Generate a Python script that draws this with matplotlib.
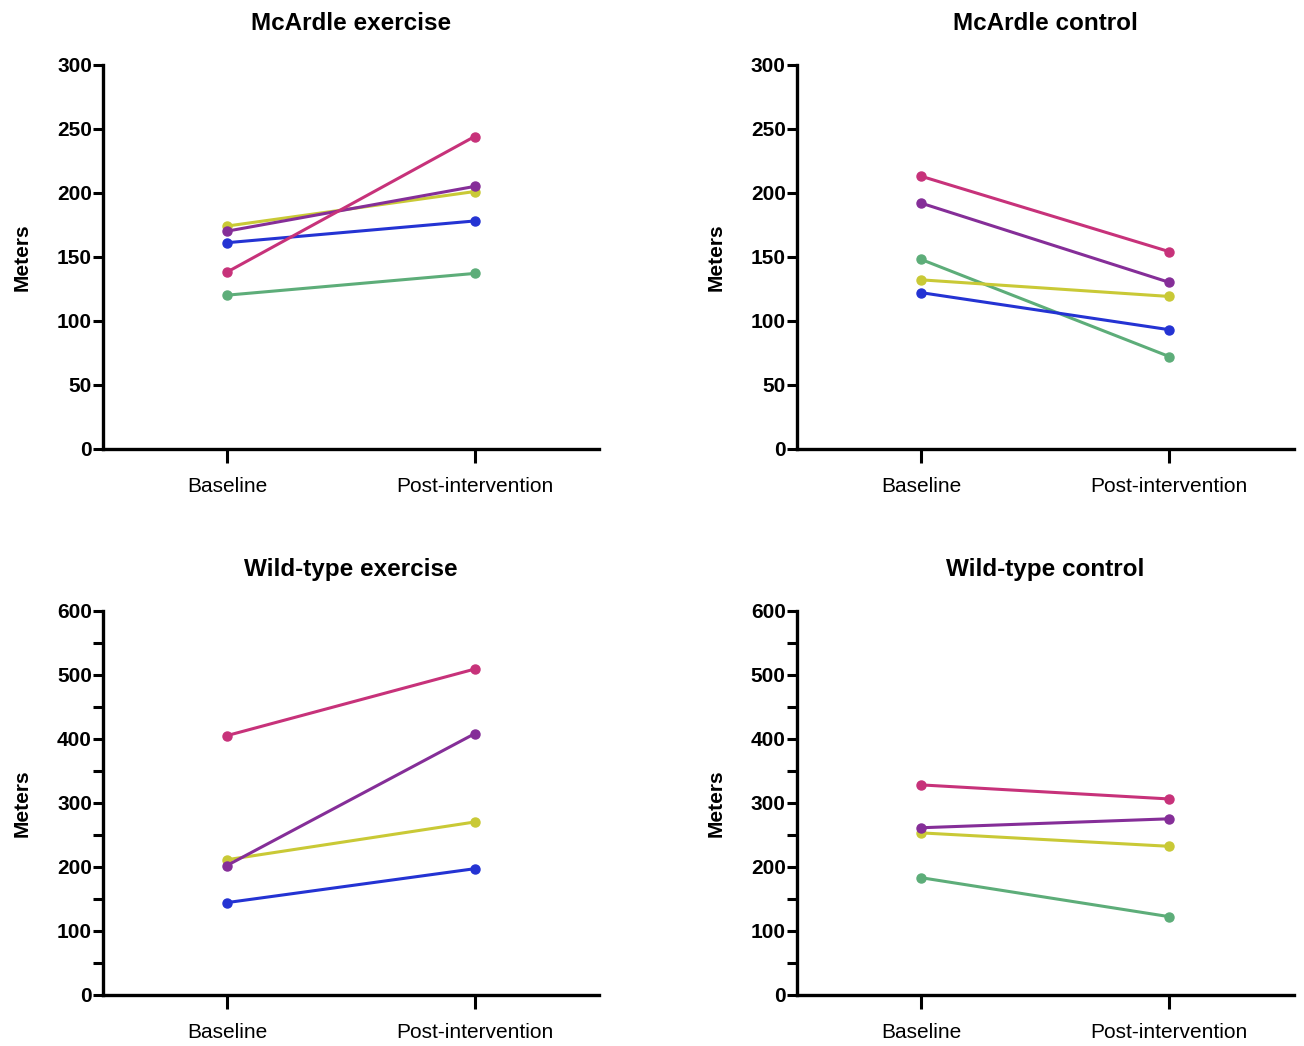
import numpy as np
import matplotlib.pyplot as plt

# categories and per-subject values (meters)
timepoints = ['Baseline', 'Post-intervention']
colors = {'green': '#5DAD79', 'blue': '#2433D3', 'yellow': '#C9C936',
          'purple': '#852E98', 'magenta': '#C7327A'}

mcardle_exercise = {'green': [120, 137], 'blue': [161, 178], 'yellow': [174, 201],
                    'purple': [170, 205], 'magenta': [138, 244]}
mcardle_control = {'green': [148, 72], 'blue': [122, 93], 'yellow': [132, 119],
                   'purple': [192, 130], 'magenta': [213, 154]}
wildtype_exercise = {'blue': [144, 197], 'yellow': [211, 270],
                     'purple': [202, 408], 'magenta': [405, 509]}
wildtype_control = {'green': [183, 122], 'yellow': [253, 232],
                    'purple': [261, 275], 'magenta': [328, 306]}

panels = [
    ('McArdle exercise', mcardle_exercise, 300, 50, None, [0.079, 0.571, 0.38, 0.367]),
    ('McArdle control', mcardle_control, 300, 50, None, [0.611, 0.571, 0.381, 0.367]),
    ('Wild-type exercise', wildtype_exercise, 600, 100, 50, [0.079, 0.049, 0.38, 0.367]),
    ('Wild-type control', wildtype_control, 600, 100, 50, [0.611, 0.049, 0.381, 0.367]),
]

plt.rcParams['font.family'] = ['Liberation Sans', 'DejaVu Sans']

fig = plt.figure(figsize=(13.04, 10.46), dpi=100)

for title, data, ymax, step, minor, pos in panels:
    ax = fig.add_axes(pos)
    x = np.arange(len(timepoints))
    for name in ['green', 'blue', 'yellow', 'purple', 'magenta']:
        if name in data:
            ax.plot(x, data[name], color=colors[name], lw=2.2, marker='o',
                    markersize=6.5, solid_capstyle='round')
    ax.set_xlim(-0.5, 1.5)
    ax.set_ylim(0, ymax)
    yt = np.arange(0, ymax + 1, step)
    ax.set_yticks(yt, labels=[str(v) for v in yt], fontweight='bold', fontsize=15)
    if minor:
        ax.set_yticks(np.arange(0, ymax + 1, minor), minor=True)
        ax.tick_params(axis='y', which='minor', length=7, width=2.2)
    ax.set_xticks(x, labels=timepoints, fontsize=15)
    ax.tick_params(axis='y', which='major', length=7, width=2.2, pad=1)
    ax.tick_params(axis='x', length=10, width=2.2, pad=10)
    for side in ['top', 'right']:
        ax.spines[side].set_visible(False)
    for side in ['left', 'bottom']:
        ax.spines[side].set_linewidth(2.4)
    ax.set_ylabel('Meters', fontsize=15, fontweight='bold', labelpad=18)
    ax.set_title(title, fontsize=17.5, fontweight='bold', pad=25)

fig.savefig('out.png', dpi=100)
